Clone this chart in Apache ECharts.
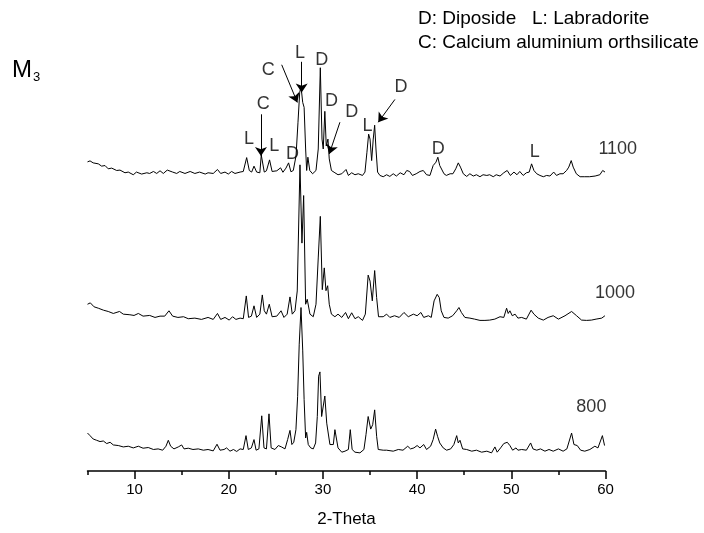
<!DOCTYPE html>
<html>
  <head>
    <meta charset="utf-8" />
    <title>XRD M3</title>
    <script src="https://cdn.jsdelivr.net/npm/echarts@6/dist/echarts.min.js"></script>
  </head>
  <body style="margin:0">
    <div id="main" style="width: 704px;height:533px;"></div>
    <script type="text/javascript">
      // 2-theta ticks (labels only on the tens)
      var tickValues = ['5', '10', '15', '20', '25', '30', '35', '40', '45', '50', '55', '60'];

      // temperatures and vertical offset of each pattern
      var seriesNames = ['800', '1000', '1100'];
      var seriesOffsets = [18, 152, 297];

      // [2-theta, intensity]
      var xrd800 = [
        [5.0,20.3],[5.27,17.7],[5.6,14.3],[5.97,13],[6.33,11.7],[6.68,12.3],[7.04,9.7],[7.4,11],[7.74,8.3],[8.27,7.7],
        [8.8,6.3],[9.33,7],[9.86,5.3],[10.4,7],[10.9,5],[11.45,5.7],[12.0,3.7],[12.5,4.3],[12.98,3],[13.33,7],
        [13.58,13],[13.83,7],[14.18,4.3],[14.64,6.3],[15.0,8.3],[15.25,4.3],[15.7,5],[16.2,3.7],[16.76,4.3],[17.3,3],
        [17.8,3.7],[18.35,2.3],[18.75,9],[19.07,3],[19.5,3.7],[19.77,5.3],[20.13,2],[20.5,3.7],[20.84,1.7],[21.2,4.3],
        [21.54,3.7],[21.83,17.7],[22.07,3.7],[22.4,5.3],[22.68,13.7],[22.9,3],[23.2,4.3],[23.5,37.7],[23.74,5.3],[24.0,4.3],
        [24.27,39.7],[24.5,5.3],[24.9,3.7],[25.26,7.7],[25.6,6.3],[25.97,4.3],[26.25,13.7],[26.5,23],[26.7,8.7],[26.9,11],
        [27.13,23.7],[27.31,57],[27.48,110],[27.67,147],[27.85,104],[28.0,54],[28.16,15.3],[28.27,21],[28.44,8.7],[28.7,5.3],
        [28.97,4.3],[29.22,10.3],[29.4,37],[29.54,77.7],[29.68,82],[29.86,37],[30.03,35.3],[30.2,57.7],[30.4,30.3],[30.56,28.7],
        [30.74,8.7],[30.92,7],[31.1,8.7],[31.27,23.7],[31.45,23],[31.6,5.3],[32.0,1],[32.34,2],[32.7,3.7],[32.9,23.7],
        [33.1,3.7],[33.4,1],[33.93,0.3],[34.35,3.7],[34.57,18.7],[34.8,37],[35.07,24.3],[35.28,28.7],[35.49,43.7],[35.7,17],
        [35.87,3.7],[36.05,4.3],[36.4,3],[36.76,3],[37.46,2],[38.0,3.7],[38.5,3],[39.0,7],[39.3,4.3],[39.66,5.3],
        [40.0,7.7],[40.3,5.3],[40.7,8.7],[41.0,3.7],[41.43,7],[41.7,13.7],[41.96,24.3],[42.17,17],[42.4,10.3],[42.77,5.3],
        [43.13,3],[43.56,4.3],[43.9,8.7],[44.2,17.7],[44.37,10.3],[44.55,13],[44.83,4.3],[45.26,3.7],[45.8,2],[46.3,3],
        [46.85,1],[47.4,2],[47.9,0.3],[48.26,6.3],[48.5,1],[48.86,5.3],[49.2,9.7],[49.57,11],[49.85,7.7],[50.14,3],
        [50.5,5.3],[50.7,3],[51.1,3.7],[51.6,3],[52.05,10.3],[52.3,4.3],[52.7,3],[53.1,4.3],[53.57,2],[54.0,3.7],
        [54.45,2],[55.0,4.3],[55.5,2],[55.9,4.3],[56.4,20.3],[56.65,8.7],[57.0,7.7],[57.36,3],[57.8,2],[58.34,3.7],
        [58.87,7],[59.2,5.3],[59.67,17.7],[59.9,7.7]
      ];

      var xrd1000 = [
        [5.0,16.3],[5.3,17.7],[5.7,13.7],[6.15,12.3],[6.7,10.3],[7.2,9],[7.74,7],[8.4,9],[8.8,6.3],[9.5,5.7],
        [9.94,5],[10.4,7],[10.9,4.3],[11.6,5],[12.17,3],[12.7,4.3],[13.2,4.3],[13.65,9.7],[14.04,4.3],[14.6,3],
        [15.2,3.7],[15.7,1.7],[16.4,2.3],[17.1,1],[17.8,3],[18.35,1],[18.8,7],[19.14,1],[19.6,3],[20.05,0.3],
        [20.4,3.7],[20.76,1],[21.2,2.3],[21.54,1.7],[21.86,24.7],[22.1,3],[22.4,4.3],[22.68,14.7],[22.96,3],[23.3,6.3],
        [23.56,25.7],[23.77,9.7],[24.0,6.3],[24.3,16.3],[24.6,3.7],[25.1,4.3],[25.55,9.7],[25.86,3],[26.2,6.3],[26.5,23.7],
        [26.74,6.3],[27.03,9.7],[27.27,29.7],[27.56,157],[27.77,78],[27.95,126],[28.16,16.3],[28.33,21.3],[28.62,6.3],[28.97,3.7],
        [29.26,16.3],[29.5,63],[29.72,105],[29.93,31],[30.14,53],[30.32,30],[30.5,35],[30.67,16.3],[30.9,6.3],[31.27,3.7],
        [31.6,6.3],[32.0,3],[32.4,8],[32.7,1.7],[33.05,7.7],[33.4,1.7],[33.75,3.7],[34.2,0],[34.5,6.3],[34.8,45.7],
        [35.0,39.7],[35.24,19.7],[35.49,50.3],[35.7,23],[35.9,3.7],[36.05,4.7],[36.4,3.7],[36.76,6.3],[37.1,3],[37.6,4.7],
        [38.1,3],[38.6,8],[39.06,3.7],[39.6,6.3],[40.0,4.7],[40.4,8],[40.7,3],[41.2,4.7],[41.5,3],[41.8,19.7],
        [42.13,26.3],[42.35,23],[42.56,9.7],[42.85,3],[43.3,2.3],[43.77,4.7],[44.2,9.7],[44.44,13],[44.7,8],[45.07,3],
        [45.6,2.3],[46.1,1.3],[46.67,0],[47.2,0],[47.7,0.3],[48.25,1.3],[48.8,3.7],[49.2,3],[49.5,12.3],[49.67,7],
        [49.85,9.7],[50.1,4.7],[50.4,6.3],[50.7,2.3],[51.1,3],[51.6,1.3],[52.1,10.3],[52.4,6.3],[52.86,2.3],[53.4,0.3],
        [53.9,3],[54.45,4.7],[55.0,1.3],[55.7,4.7],[56.4,9],[56.93,4.7],[57.46,0.3],[58.0,0],[58.5,0.3],[59.0,1.3],
        [59.6,2.3],[59.94,4.7]
      ];

      var xrd1100 = [
        [5.0,15],[5.27,16],[5.6,14],[6.15,13],[6.5,10.7],[6.86,11.3],[7.2,8],[7.57,8.7],[8.1,6.3],[8.45,6.7],
        [8.98,4],[9.33,4.7],[9.86,2],[10.2,4.7],[10.75,2.7],[11.3,4],[11.6,3.3],[12.0,5.3],[12.35,3.3],[12.7,6],
        [13.05,3.3],[13.47,6.7],[13.68,8.7],[14.04,4.7],[14.47,3.3],[14.8,5.3],[15.35,3.3],[15.9,5.3],[16.4,3.3],[16.9,4.7],
        [17.5,2.7],[17.8,4],[18.35,3.3],[18.8,7.3],[19.14,3.3],[19.6,4.7],[19.95,2.7],[20.3,5.3],[20.66,3.3],[21.2,4.7],
        [21.54,5.3],[21.9,19.3],[22.18,6.3],[22.43,4.7],[22.68,10.7],[22.96,4.7],[23.3,4],[23.45,22],[23.77,4.7],[24.0,6],
        [24.33,17],[24.6,5.3],[25.1,6],[25.5,9],[25.75,4.5],[26.07,8.7],[26.35,14],[26.6,5],[26.85,6.3],[27.14,21],
        [27.35,55],[27.53,85],[27.67,91],[27.85,75],[28.0,70],[28.16,28],[28.27,6.3],[28.4,19.7],[28.6,6.3],[28.9,3],
        [29.26,6.3],[29.5,28],[29.72,110],[29.9,38],[30.03,28],[30.2,66],[30.35,31],[30.53,38],[30.67,18],[30.9,6.3],
        [31.27,4],[31.6,2],[32.0,3],[32.45,7.3],[32.7,1.3],[33.05,4],[33.4,2],[33.75,3],[34.2,1.3],[34.46,4.7],
        [34.67,24.7],[34.85,43],[35.0,38],[35.17,16.3],[35.34,38],[35.49,52],[35.63,28],[35.8,4.7],[36.05,1.3],[36.4,0],
        [36.76,2],[37.1,0.3],[37.46,3],[37.8,0.7],[38.2,4],[38.6,2],[38.9,6.3],[39.2,5.3],[39.5,1.3],[39.9,3],
        [40.3,5.3],[40.65,6.3],[41.0,2],[41.36,1.3],[41.7,11.3],[42.0,14.7],[42.2,19.7],[42.4,11.3],[42.6,13],[42.85,3],
        [43.1,1.3],[43.5,3],[43.8,3],[44.1,8],[44.37,14],[44.6,9.7],[44.9,3],[45.26,0.3],[45.6,3],[45.96,0.7],
        [46.3,2],[46.67,0],[47.0,2],[47.4,1.3],[47.7,2],[48.08,0],[48.4,2],[48.8,0.7],[49.2,4],[49.56,6.3],
        [49.9,1.3],[50.28,4.7],[50.6,2],[50.9,5.3],[51.26,1.3],[51.6,4],[51.9,4.7],[52.15,13],[52.4,6.3],[52.7,3],
        [53.04,1.3],[53.4,0],[53.75,1.3],[54.1,0.7],[54.5,4.7],[54.8,1.3],[55.16,3],[55.5,3],[55.87,6.3],[56.1,9.7],
        [56.36,16.3],[56.57,9.7],[56.9,3],[57.3,0],[57.8,0],[58.3,0],[58.9,0.7],[59.4,2],[59.7,6.3],[59.95,4.7]
      ];

      // phase letters over the peaks: [text, 2-theta, height]
      var peakLabels = [
        ['L', 22.15, 335], ['C', 23.66, 370], ['L', 24.83, 328], ['D', 26.76, 320],
        ['C', 24.2, 405], ['L', 27.56, 422], ['D', 29.86, 415], ['D', 30.92, 373],
        ['D', 33.05, 362], ['L', 34.72, 348], ['D', 38.28, 388], ['D', 42.24, 325],
        ['L', 52.5, 322]
      ];
      // arrows: [from theta, from h, to theta, to h]
      var peakArrows = [
        [23.42, 360, 23.42, 318],
        [25.62, 410, 27.28, 372],
        [27.74, 413, 27.74, 382],
        [31.8, 352, 30.67, 320],
        [37.64, 375, 35.87, 352]
      ];
      // temperature tags beside each pattern: [text, 2-theta, height]
      var tempLabels = [['1100', 61.3, 325], ['1000', 61.0, 180], ['800', 58.5, 65]];

      var patterns = [xrd800, xrd1000, xrd1100];
      var FONT = 'Arial, "Liberation Sans", sans-serif';

      var myChart = echarts.init(document.getElementById('main'));

      var series = [];
      for (var k = 0; k < patterns.length; k++) {
        var off = seriesOffsets[k];
        series.push({
          name: seriesNames[k],
          type: 'line',
          data: patterns[k].map(function (p) { return [p[0], p[1] + off]; }),
          showSymbol: false,
          symbol: 'none',
          lineStyle: { color: '#000', width: 1 },
          animation: false,
          silent: true
        });
      }

      series[2].markLine = {
        silent: true,
        animation: false,
        symbol: ['none', 'arrow'],
        symbolSize: 9,
        label: { show: false },
        lineStyle: { color: '#000', width: 1, type: 'solid' },
        data: peakArrows.map(function (a) {
          return [{ coord: [a[0], a[1]] }, { coord: [a[2], a[3]] }];
        })
      };

      series.push({
        type: 'scatter',
        symbolSize: 0,
        clip: false,
        silent: true,
        animation: false,
        label: {
          show: true,
          position: 'inside',
          formatter: '{b}',
          color: '#000',
          fontFamily: FONT,
          fontSize: 18
        },
        data: peakLabels.concat(tempLabels).map(function (t) {
          return { name: t[0], value: [t[1], t[2]] };
        })
      });

      var option = {
        backgroundColor: '#fff',
        grid: { left: 87.5, right: 98.5, top: 40, bottom: 58 },
        xAxis: [{
          type: 'value',
          min: 5,
          max: 60,
          interval: 5,
          position: 'bottom',
          axisLine: { lineStyle: { color: '#000', width: 1.5 } },
          axisTick: { length: 4, lineStyle: { color: '#000', width: 1.5 } },
          axisLabel: { show: false },
          splitLine: { show: false }
        }, {
          type: 'category',
          data: tickValues,
          boundaryGap: false,
          position: 'bottom',
          axisLine: { show: false },
          axisTick: {
            length: 8,
            interval: function (i) { return i % 2 === 1; },
            lineStyle: { color: '#000', width: 1.5 }
          },
          axisLabel: {
            interval: function (i) { return i % 2 === 1; },
            color: '#000',
            fontFamily: FONT,
            fontSize: 15,
            margin: 11
          },
          name: '2-Theta',
          nameLocation: 'middle',
          nameGap: 40,
          nameTextStyle: { color: '#000', fontFamily: FONT, fontSize: 17 }
        }],
        yAxis: {
          type: 'value',
          min: 0,
          max: 435,
          show: false
        },
        graphic: [{
          type: 'text',
          left: 12,
          top: 58,
          style: {
            text: '{m|M}{s|3}',
            rich: {
              m: { fontSize: 24, fontFamily: FONT, fill: '#000' },
              s: { fontSize: 13, fontFamily: FONT, fill: '#000', padding: [14, 0, 0, 1] }
            }
          }
        }, {
          type: 'text',
          left: 418,
          top: 9,
          style: { text: 'D: Diposide   L: Labradorite', fontSize: 19, fontFamily: FONT, fill: '#000' }
        }, {
          type: 'text',
          left: 418,
          top: 33,
          style: { text: 'C: Calcium aluminium orthsilicate', fontSize: 19, fontFamily: FONT, fill: '#000' }
        }],
        series: series
      };
      myChart.setOption(option);
    </script>
  </body>
</html>
